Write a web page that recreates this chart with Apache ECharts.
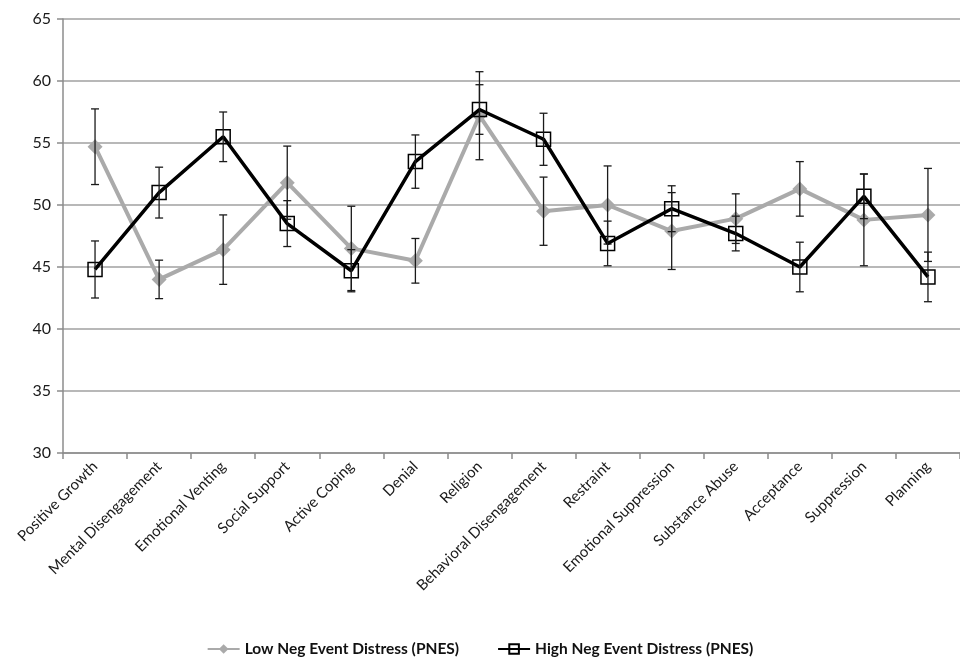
<!DOCTYPE html>
<html>
<head>
<meta charset="utf-8">
<script src="https://cdn.jsdelivr.net/npm/echarts@6/dist/echarts.min.js"></script>
<style>
html,body{margin:0;padding:0;background:#fff;}
#chart{width:960px;height:663px;}
</style>
</head>
<body>
<div id="chart"></div>
<script>
const categories = ["Positive Growth","Mental Disengagement","Emotional Venting","Social Support","Active Coping","Denial","Religion","Behavioral Disengagement","Restraint","Emotional Suppression","Substance Abuse","Acceptance","Suppression","Planning"];
const lowName = "Low Neg Event Distress (PNES)";
const highName = "High Neg Event Distress (PNES)";
const lowMean = [54.7, 44.0, 46.4, 51.8, 46.5, 45.5, 57.2, 49.5, 50.0, 47.9, 48.9, 51.3, 48.8, 49.2];
const lowErr  = [3.05, 1.55, 2.8, 2.95, 3.4, 1.8, 3.55, 2.75, 3.15, 3.1, 2.0, 2.2, 3.7, 3.75];
const highMean = [44.8, 51.0, 55.5, 48.5, 44.7, 53.5, 57.7, 55.3, 46.9, 49.7, 47.7, 45.0, 50.7, 44.2];
const highErr  = [2.3, 2.05, 2.0, 1.85, 1.7, 2.15, 2.0, 2.1, 1.8, 1.85, 1.4, 2.0, 1.8, 2.0];
const yMin = 30, yMax = 65, yStep = 5;

const chart = echarts.init(document.getElementById('chart'));
const FONT = 'Lato, "Open Sans", sans-serif';

function errData(means, errs){
  return means.map((m, i) => [i, m, errs[i]]);
}
function renderErr(params, api){
  const i = api.value(0), m = api.value(1), e = api.value(2);
  const top = api.coord([i, m + e]);
  const bot = api.coord([i, m - e]);
  const cw = 4;
  const st = {stroke: '#1a1a1a', lineWidth: 1.3};
  return {
    type: 'group',
    children: [
      {type: 'line', shape: {x1: top[0], y1: top[1], x2: bot[0], y2: bot[1]}, style: st},
      {type: 'line', shape: {x1: top[0]-cw, y1: top[1], x2: top[0]+cw, y2: top[1]}, style: st},
      {type: 'line', shape: {x1: bot[0]-cw, y1: bot[1], x2: bot[0]+cw, y2: bot[1]}, style: st}
    ]
  };
}

chart.setOption({
  animation: false,
  backgroundColor: '#fff',
  textStyle: {fontFamily: FONT},
  grid: {left: 63, right: -10, top: 19, bottom: 210, containLabel: false},
  legend: {
    data: [lowName, highName],
    bottom: 1,
    left: 'center',
    itemWidth: 32,
    itemHeight: 12,
    itemGap: 38,
    textStyle: {fontFamily: FONT, fontSize: 15.5, fontWeight: 'bold', color: '#111'}
  },
  xAxis: {
    type: 'category',
    data: categories,
    boundaryGap: true,
    axisLine: {show: true, lineStyle: {color: '#8c8c8c', width: 1.5}},
    axisTick: {show: true, interval: 0, length: 6, lineStyle: {color: '#8c8c8c', width: 1.5}},
    axisLabel: {interval: 0, rotate: 45, margin: 11, fontSize: 15, color: '#1a1a1a', fontFamily: FONT},
    splitLine: {show: false}
  },
  yAxis: {
    type: 'value',
    min: yMin, max: yMax, interval: yStep,
    axisLine: {show: true, lineStyle: {color: '#8c8c8c', width: 1.5}},
    axisTick: {show: true, length: 6, lineStyle: {color: '#8c8c8c', width: 1.5}},
    axisLabel: {margin: 12, fontSize: 16, color: '#1a1a1a', fontFamily: FONT},
    splitLine: {show: true, lineStyle: {color: '#a0a0a0', width: 1.5}}
  },
  series: [
    {
      name: lowName, type: 'line', data: lowMean, z: 2,
      symbol: 'diamond', symbolSize: 15,
      lineStyle: {color: '#aaaaaa', width: 4},
      itemStyle: {color: '#aaaaaa'}
    },
    {
      name: 'lowErr', type: 'custom', z: 3,
      data: errData(lowMean, lowErr), renderItem: renderErr
    },
    {
      name: highName, type: 'line', data: highMean, z: 4,
      symbol: 'rect', symbolSize: 14,
      lineStyle: {color: '#000', width: 3.5},
      itemStyle: {color: 'rgba(255,255,255,0)', borderColor: '#000', borderWidth: 1.5}
    },
    {
      name: 'highErr', type: 'custom', z: 5,
      data: errData(highMean, highErr), renderItem: renderErr
    }
  ]
});
</script>
</body>
</html>
